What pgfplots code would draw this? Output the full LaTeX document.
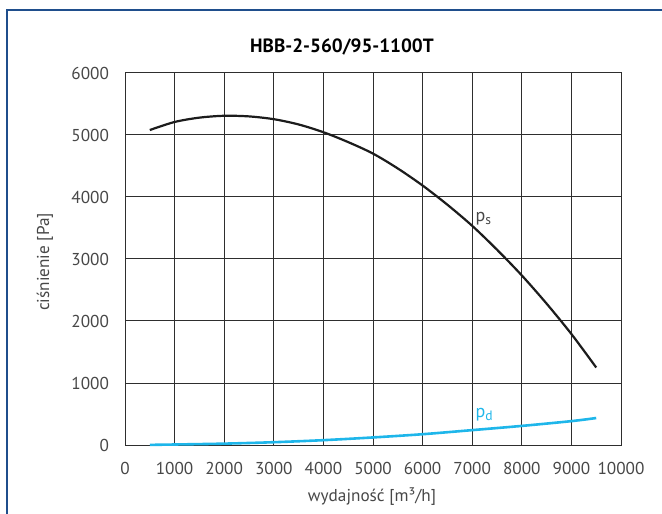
\documentclass[border=0pt]{standalone}
\usepackage{fontspec}
\setmainfont{PT Sans}
\usepackage{pgfplots}
\pgfplotsset{compat=1.18}
\definecolor{pscol}{HTML}{1C1C1C}
\definecolor{pdcol}{HTML}{1EB6EA}
\definecolor{bordercol}{HTML}{1F4E8C}
\definecolor{gridcol}{HTML}{2E2E2E}
\definecolor{txtcol}{HTML}{474747}
\begin{document}
\begin{tikzpicture}
\path[use as bounding box] (0pt,0pt) rectangle (331pt,256.5pt);
\draw[bordercol, line width=0.7pt] (3.5pt,-2pt) -- (3.5pt,251.5pt) -- (335pt,251.5pt);
\begin{axis}[
  at={(62.5pt,34pt)}, anchor=south west,
  scale only axis, width=248pt, height=186pt,
  xmin=0, xmax=10000, ymin=0, ymax=6000,
  xtick={0,1000,...,10000}, ytick={0,1000,...,6000},
  scaled ticks=false,
  /pgf/number format/assume math mode=true,
  /pgf/number format/set thousands separator={},
  major tick length=0pt,
  grid=major,
  major grid style={gridcol, line width=0.5pt},
  axis line style={gridcol, line width=0.5pt},
  tick label style={font=\fontsize{8.6}{10}\selectfont, text=txtcol},
  xticklabel style={yshift=-5pt},
  yticklabel style={xshift=-4.5pt},
  clip=false,
]
\addplot[pscol, line width=1.1pt, smooth] coordinates {
(500,5080) (1000,5210) (1500,5280) (2000,5310) (2500,5300) (3000,5255)
(3500,5170) (4000,5045) (4500,4885) (5000,4700) (5500,4460) (6000,4185)
(6500,3875) (7000,3535) (7500,3150) (8000,2735) (8500,2280) (9000,1790) (9500,1250)
};
\addplot[pdcol, line width=1.3pt, smooth] coordinates {
(500,2) (1000,8) (2000,22) (3000,45) (4000,78) (5000,122) (6000,174)
(7000,240) (8000,308) (9000,385) (9500,435)
};
\node[anchor=base west, text=txtcol, font=\fontsize{9}{10}\selectfont, inner sep=0pt] at (axis cs:7060,3600) {p\raisebox{-0.35ex}{\fontsize{6.8}{8}\selectfont s}};
\node[anchor=base west, text=pdcol, font=\fontsize{9}{10}\selectfont, inner sep=0pt] at (axis cs:7060,440) {p\raisebox{-0.35ex}{\fontsize{6.8}{8}\selectfont d}};
\end{axis}
\node[font=\bfseries\fontsize{9.6}{11}\selectfont, text=black] at (171pt,233pt) {HBB-2-560/95-1100T};
\node[rotate=90, font=\fontsize{8.6}{10}\selectfont, text=txtcol] at (22.5pt,125.5pt) {ciśnienie [Pa]};
\node[font=\fontsize{8.6}{10}\selectfont, text=txtcol] at (186pt,8pt) {wydajność [m³/h]};
\end{tikzpicture}
\end{document}
